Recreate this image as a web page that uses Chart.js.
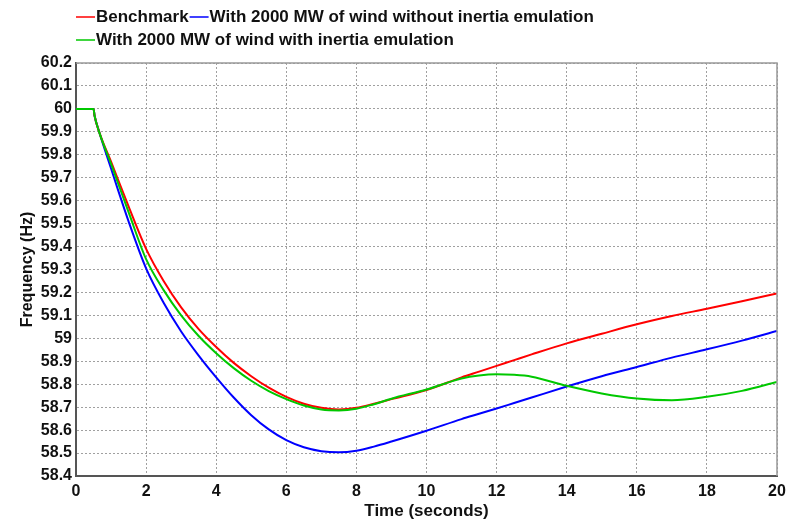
<!DOCTYPE html>
<html>
<head>
<meta charset="utf-8">
<script src="https://cdn.jsdelivr.net/npm/chart.js@4"></script>
<style>
  html, body { margin: 0; padding: 0; background: #fff; }
  #wrap { width: 792px; height: 522px; position: relative; }
</style>
</head>
<body>
<div id="wrap"><canvas id="myChart"></canvas></div>
<script>
// time axis (seconds)
const times = [0, 0.5, 0.53, 0.66, 1, 1.5, 2, 2.5, 3, 3.5, 4, 4.5, 5, 5.5, 6, 6.5, 7, 7.5, 8, 8.5, 9, 10, 11, 11.5, 12, 12.5, 13, 14, 15, 16, 17, 18, 19, 20];

// frequency (Hz)
const benchmark = [60, 60, 59.97, 59.9, 59.77, 59.575, 59.39, 59.25, 59.135, 59.04, 58.962, 58.893, 58.835, 58.785, 58.745, 58.715, 58.697, 58.69, 58.697, 58.715, 58.735, 58.775, 58.83, 58.855, 58.88, 58.905, 58.93, 58.978, 59.02, 59.061, 59.097, 59.129, 59.162, 59.196];
const windNoInertia = [60, 60, 59.97, 59.9, 59.74, 59.51, 59.305, 59.155, 59.03, 58.925, 58.83, 58.742, 58.665, 58.603, 58.556, 58.525, 58.508, 58.503, 58.51, 58.528, 58.55, 58.597, 58.648, 58.671, 58.694, 58.718, 58.742, 58.79, 58.835, 58.875, 58.916, 58.952, 58.99, 59.032];
const windInertia = [60, 60, 59.97, 59.9, 59.76, 59.55, 59.345, 59.21, 59.1, 59.01, 58.935, 58.87, 58.815, 58.77, 58.735, 58.707, 58.69, 58.686, 58.693, 58.713, 58.737, 58.777, 58.825, 58.838, 58.843, 58.841, 58.833, 58.793, 58.76, 58.738, 58.73, 58.745, 58.771, 58.81];

const seriesNames = [
  'Benchmark',
  'With 2000 MW of wind without inertia emulation',
  'With 2000 MW of wind with inertia emulation',
];
const seriesColors = ['rgb(255, 0, 0)', 'rgb(0, 0, 255)', 'rgb(0, 200, 0)'];

const FONT = '"Liberation Sans", Arial, sans-serif';

const pts = (vals) => times.map((t, i) => ({ x: t, y: vals[i] }));

// legend drawn in the corner like the original: rows of "—label"
const topLegend = {
  id: 'topLegend',
  afterDraw(chart) {
    const c = chart.ctx;
    c.save();
    c.font = 'bold 17px ' + FONT;
    c.textBaseline = 'middle';
    c.fillStyle = '#111';
    c.lineWidth = 1.5;
    const rows = [[0, 1], [2]];
    const rowY = [17, 40];
    rows.forEach((row, r) => {
      let x = 76;
      row.forEach((i) => {
        c.strokeStyle = seriesColors[i];
        c.beginPath();
        c.moveTo(x, rowY[r]);
        c.lineTo(x + 19, rowY[r]);
        c.stroke();
        c.fillText(seriesNames[i], x + 20, rowY[r]);
        x += 20 + c.measureText(seriesNames[i]).width + 1;
      });
    });
    c.restore();
  },
};

// light frame on top and right of the plot
const frame = {
  id: 'frame',
  afterDatasetsDraw(chart) {
    const { ctx, chartArea: a } = chart;
    ctx.save();
    ctx.strokeStyle = '#999';
    ctx.lineWidth = 1.5;
    ctx.beginPath();
    ctx.moveTo(a.left, a.top);
    ctx.lineTo(a.right, a.top);
    ctx.lineTo(a.right, a.bottom);
    ctx.stroke();
    ctx.restore();
  },
};

const ctx = document.getElementById('myChart');

new Chart(ctx, {
  type: 'line',
  data: {
    datasets: [
      { label: seriesNames[0], data: pts(benchmark), borderColor: seriesColors[0], order: 1 },
      { label: seriesNames[1], data: pts(windNoInertia), borderColor: seriesColors[1], order: 2 },
      { label: seriesNames[2], data: pts(windInertia), borderColor: seriesColors[2], order: 0 },
    ],
  },
  options: {
    responsive: true,
    maintainAspectRatio: false,
    animation: false,
    layout: { padding: { top: 63, right: 15, left: 0, bottom: 0 } },
    elements: {
      point: { radius: 0 },
      line: { borderWidth: 2, cubicInterpolationMode: 'monotone', fill: false },
    },
    plugins: {
      legend: { display: false },
      tooltip: { enabled: false },
    },
    scales: {
      x: {
        type: 'linear',
        min: 0,
        max: 20,
        afterFit: (s) => { s.height = 46; },
        grid: { color: '#a0a0a0', lineWidth: 1, drawTicks: false },
        border: { color: '#555', width: 2, dash: [2, 2] },
        ticks: {
          stepSize: 2,
          padding: 6,
          color: '#111',
          font: { family: FONT, size: 16, weight: 'bold' },
        },
        title: {
          display: true,
          text: 'Time (seconds)',
          color: '#111',
          font: { family: FONT, size: 17, weight: 'bold' },
          padding: { top: 0, bottom: 0 },
        },
      },
      y: {
        min: 58.4,
        max: 60.2,
        afterFit: (s) => { s.width = 76; },
        grid: { color: '#a0a0a0', lineWidth: 1, drawTicks: false },
        border: { color: '#555', width: 2, dash: [2, 2] },
        ticks: {
          stepSize: 0.1,
          padding: 4,
          color: '#111',
          font: { family: FONT, size: 16, weight: 'bold' },
          callback: (v) => String(Number(v.toFixed(1))),
        },
        title: {
          display: true,
          text: 'Frequency (Hz)',
          color: '#111',
          font: { family: FONT, size: 16, weight: 'bold' },
          padding: { top: 18, bottom: 0 },
        },
      },
    },
  },
  plugins: [topLegend, frame],
});
</script>
</body>
</html>
